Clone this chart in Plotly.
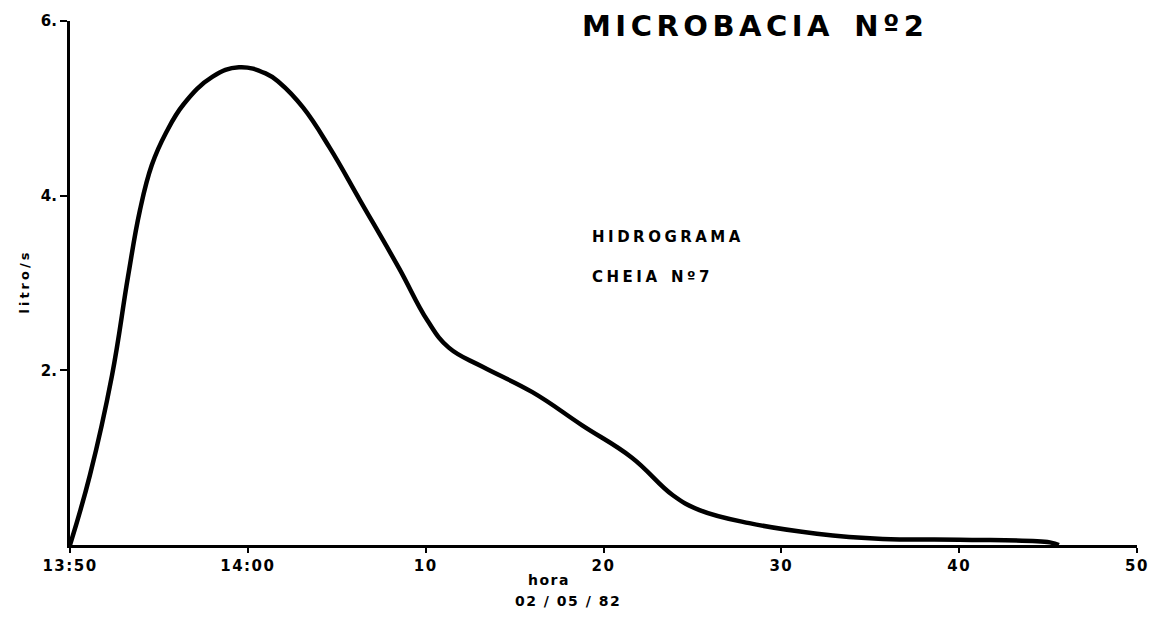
import plotly.graph_objects as go

# Hydrograph of flood event no. 7, minutes after 13:50 on 02/05/82
minutes = [0.0, 1.12, 2.36, 3.26, 3.93, 4.6, 5.4, 6.4, 8.0, 9.5, 11.0, 11.8,
           13.1, 14.6, 16.3, 18.5, 20.1, 21.3, 23.2, 26.0, 28.8, 31.6, 33.9,
           35.4, 38.2, 42.0, 45.7, 50.0, 55.1, 55.6]
flow_ls = [0.0, 0.80, 1.94, 3.07, 3.83, 4.35, 4.72, 5.05, 5.36, 5.47, 5.40,
           5.29, 5.01, 4.55, 3.95, 3.17, 2.57, 2.26, 2.04, 1.75, 1.37, 1.00,
           0.57, 0.40, 0.25, 0.13, 0.07, 0.06, 0.03, 0.0]

x_tickvals = [0, 10, 20, 30, 40, 50, 60]
x_ticktext = ["13:50", "14:00", "10", "20", "30", "40", "50"]
y_tickvals = [2, 4, 6]
y_ticktext = ["2.", "4.", "6."]

FONT = "DejaVu Sans"


def spaced(text, px):
    return f'<span style="letter-spacing:{px}px">{text}</span>'


fig = go.Figure()
fig.add_trace(go.Scatter(
    x=minutes, y=flow_ls, mode="lines",
    line=dict(color="black", width=4.5, shape="spline", smoothing=1.2),
    hoverinfo="skip", showlegend=False,
))

axis_common = dict(
    showgrid=False, zeroline=False, showline=True, linecolor="black",
    linewidth=3, ticks="outside", tickcolor="black", tickwidth=2,
)

fig.update_xaxes(
    range=[0, 60], tickvals=x_tickvals,
    ticktext=[spaced(t, 1.5) for t in x_ticktext],
    ticklen=5, tickfont=dict(family=FONT, size=15, color="black", weight=700),
    **axis_common,
)
fig.update_yaxes(
    range=[0, 6], tickvals=y_tickvals, ticktext=y_ticktext,
    ticklen=7, tickfont=dict(family=FONT, size=15, color="black", weight=700),
    **axis_common,
)

W, H = 1170, 617
L, R, T, B = 70, 33, 14, 72


def px_x(px):
    return (px - L) / (W - L - R)


def px_y(py):
    return (H - B - py) / (H - T - B)


annos = [
    dict(text=spaced("MICROBACIA", 4.5) + "  " + spaced("Nº2", 4.5),
         x=px_x(580), y=px_y(19), xanchor="left", yanchor="middle",
         font=dict(family=FONT, size=29, color="black", weight=700)),
    dict(text=spaced("HIDROGRAMA", 3.5), x=px_x(590), y=px_y(233),
         xanchor="left", yanchor="middle",
         font=dict(family=FONT, size=15, color="black", weight=700)),
    dict(text=spaced("CHEIA", 3.5) + "  " + spaced("Nº7", 3.5), x=px_x(590), y=px_y(273),
         xanchor="left", yanchor="middle",
         font=dict(family=FONT, size=15, color="black", weight=700)),
    dict(text=spaced("hora", 1.5), x=px_x(549), y=px_y(580),
         xanchor="center", yanchor="middle",
         font=dict(family=FONT, size=14, color="black", weight=700)),
    dict(text=spaced("02 / 05 / 82", 1.5), x=px_x(568), y=px_y(602),
         xanchor="center", yanchor="middle",
         font=dict(family=FONT, size=14, color="black", weight=700)),
    dict(text=spaced("litro/s", 3), x=px_x(25), y=px_y(278), textangle=-90,
         xanchor="center", yanchor="middle",
         font=dict(family=FONT, size=13, color="black", weight=700)),
]
for a in annos:
    fig.add_annotation(xref="paper", yref="paper", showarrow=False, **a)

fig.update_layout(
    width=W, height=H, margin=dict(l=L, r=R, t=T, b=B),
    paper_bgcolor="white", plot_bgcolor="white",
)

fig.write_html("out.html")
